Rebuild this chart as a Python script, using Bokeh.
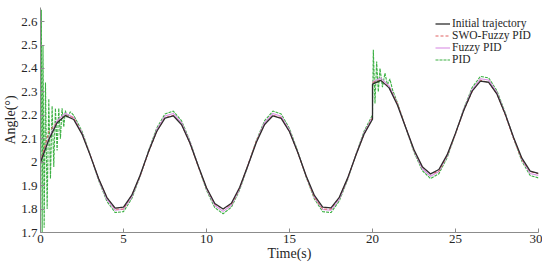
from bokeh.plotting import figure
from bokeh.models import Range1d, FixedTicker, Legend, LegendItem
from bokeh.embed import file_html
from bokeh.resources import INLINE

# ---- data ----
t_pre = [0, 0.5, 1, 1.5, 2, 2.5, 3, 3.5, 4, 4.5, 5, 5.5, 6, 6.5, 7, 7.5, 8, 8.5, 9, 9.5,
         10, 10.5, 11, 11.5, 12, 12.5, 13, 13.5, 14, 14.5, 15, 15.5, 16, 16.5, 17, 17.5,
         18, 18.5, 19, 19.5, 20]
t_post = [20, 20.5, 21, 21.5, 22, 22.5, 23, 23.5, 24, 24.5, 25, 25.5, 26, 26.5, 27, 27.5,
          28, 28.5, 29, 29.5, 30]

initial_pre = [2.000, 2.096, 2.168, 2.199, 2.182, 2.120, 2.028, 1.930, 1.849, 1.804, 1.808,
               1.859, 1.944, 2.043, 2.131, 2.188, 2.198, 2.160, 2.082, 1.985, 1.891, 1.824,
               1.800, 1.825, 1.893, 1.987, 2.084, 2.161, 2.198, 2.187, 2.130, 2.041, 1.942,
               1.858, 1.808, 1.805, 1.850, 1.932, 2.030, 2.121, 2.183]
initial_post = [2.333, 2.349, 2.317, 2.244, 2.148, 2.053, 1.981, 1.950, 1.969, 2.032, 2.124,
                2.222, 2.303, 2.346, 2.341, 2.290, 2.204, 2.105, 2.017, 1.962, 1.952]

swo_pre = [2.00, 2.13, 2.17, 2.20, 2.19, 2.12, 2.03, 1.93, 1.85, 1.80, 1.80, 1.86, 1.94, 2.04,
           2.13, 2.19, 2.20, 2.16, 2.08, 1.98, 1.89, 1.82, 1.80, 1.82, 1.89, 1.99, 2.09, 2.16,
           2.20, 2.19, 2.13, 2.04, 1.94, 1.85, 1.80, 1.80, 1.85, 1.93, 2.03, 2.12, 2.19]
swo_post = [2.34, 2.35, 2.32, 2.25, 2.15, 2.05, 1.98, 1.95, 1.96, 2.03, 2.12, 2.22, 2.30, 2.35,
            2.34, 2.29, 2.20, 2.10, 2.01, 1.96, 1.95]

fuzzy_pre = [2.000, 2.101, 2.177, 2.209, 2.191, 2.126, 2.030, 1.926, 1.841, 1.795, 1.799,
             1.852, 1.941, 2.045, 2.138, 2.197, 2.208, 2.168, 2.087, 1.984, 1.886, 1.815,
             1.790, 1.816, 1.887, 1.986, 2.088, 2.169, 2.208, 2.196, 2.137, 2.043, 1.940,
             1.850, 1.798, 1.795, 1.842, 1.928, 2.032, 2.127, 2.192]
fuzzy_post = [2.342, 2.359, 2.326, 2.249, 2.148, 2.048, 1.972, 1.940, 1.960, 2.026, 2.122,
              2.226, 2.310, 2.356, 2.351, 2.297, 2.207, 2.103, 2.011, 1.952, 1.943]

pid_t = [0, 0.05, 0.1, 0.15, 0.22, 0.3, 0.4, 0.5, 0.6, 0.7, 0.8, 0.9, 1.0, 1.1, 1.2, 1.3,
         1.4, 1.5, 1.6, 1.8, 2.0, 2.5, 3, 3.5, 4, 4.5, 5, 5.5, 6, 6.5, 7, 7.5, 8, 8.5, 9,
         9.5, 10, 10.5, 11, 11.5, 12, 12.5, 13, 13.5, 14, 14.5, 15, 15.5, 16, 16.5, 17,
         17.5, 18, 18.5, 19, 19.5, 20, 20.05, 20.15, 20.25, 20.35, 20.45, 20.6, 20.75, 20.9,
         21.05, 21.2, 21.5, 22, 22.5, 23, 23.5, 24, 24.5, 25, 25.5, 26, 26.5, 27, 27.5, 28,
         28.5, 29, 29.5, 30]
pid_y = [2.00, 2.65, 1.70, 2.50, 1.72, 2.34, 1.80, 2.27, 1.93, 2.24, 1.98, 2.23, 2.05, 2.23,
         2.10, 2.23, 2.15, 2.22, 2.19, 2.215, 2.200, 2.132, 2.031, 1.923, 1.833, 1.785, 1.789,
         1.845, 1.939, 2.047, 2.145, 2.206, 2.218, 2.176, 2.091, 1.984, 1.880, 1.806, 1.780,
         1.808, 1.882, 1.985, 2.092, 2.177, 2.218, 2.206, 2.143, 2.046, 1.937, 1.843, 1.789,
         1.785, 1.835, 1.925, 2.033, 2.133, 2.201, 2.48, 2.25, 2.43, 2.30, 2.40, 2.32, 2.38,
         2.33, 2.355, 2.31, 2.254, 2.148, 2.043, 1.964, 1.930, 1.951, 2.020, 2.121, 2.229,
         2.318, 2.366, 2.360, 2.304, 2.210, 2.101, 2.004, 1.943, 1.933]

x_ticks = [0, 5, 10, 15, 20, 25, 30]
y_ticks = [1.7, 1.8, 1.9, 2.0, 2.1, 2.2, 2.3, 2.4, 2.5, 2.6]
y_tick_labels = {1.7: "1.7", 1.8: "1.8", 1.9: "1.9", 2.0: "2", 2.1: "2.1", 2.2: "2.2",
                 2.3: "2.3", 2.4: "2.4", 2.5: "2.5", 2.6: "2.6"}

FONT = "Liberation Serif"
TXT = "#262626"

p = figure(frame_width=498, frame_height=225, output_backend="svg", toolbar_location=None,
           x_range=Range1d(0, 30), y_range=Range1d(1.7, 2.66),
           min_border_left=32, min_border_right=4, min_border_top=7, min_border_bottom=34)
p.outline_line_color = None
p.grid.visible = False
p.background_fill_color = "white"
p.border_fill_color = "white"

r_pid = p.line(pid_t, pid_y, line_color="#3cb043", line_width=1.1, line_dash="3 1")
r_fz1 = p.line(t_pre, fuzzy_pre, line_color="#d98fe3", line_width=1.1)
r_fz2 = p.line(t_post, fuzzy_post, line_color="#d98fe3", line_width=1.1)
r_sw1 = p.line(t_pre, swo_pre, line_color="#e06060", line_width=1, line_dash="3 2")
r_sw2 = p.line(t_post, swo_post, line_color="#e06060", line_width=1, line_dash="3 2")
r_in1 = p.line(t_pre + t_post, initial_pre + initial_post, line_color="#2e2e2e", line_width=1.3)

for ax in (p.xaxis[0], p.yaxis[0]):
    ax.axis_line_color = "#8c8c8c"
    ax.major_tick_line_color = "#8c8c8c"
    ax.major_tick_in = 4
    ax.major_tick_out = 0
    ax.minor_tick_line_color = None
    ax.major_label_text_font = FONT
    ax.major_label_text_font_size = "13px"
    ax.major_label_text_color = TXT
    ax.axis_label_text_font = FONT
    ax.axis_label_text_font_size = "14px"
    ax.axis_label_text_font_style = "normal"
    ax.axis_label_text_color = TXT

p.xaxis.ticker = FixedTicker(ticks=x_ticks)
p.yaxis.ticker = FixedTicker(ticks=y_ticks)
p.yaxis.major_label_overrides = y_tick_labels
p.xaxis.axis_label = "Time(s)"
p.yaxis.axis_label = "Angle(°)"
p.xaxis.major_label_standoff = 2
p.xaxis.axis_label_standoff = 0
p.yaxis.major_label_standoff = 3
p.yaxis.axis_label_standoff = 0

legend = Legend(items=[
    LegendItem(label="Initial trajectory", renderers=[r_in1]),
    LegendItem(label="SWO-Fuzzy PID", renderers=[r_sw1]),
    LegendItem(label="Fuzzy PID", renderers=[r_fz1]),
    LegendItem(label="PID", renderers=[r_pid]),
], location=(395, 167))
legend.padding = 0
legend.margin = 0
legend.spacing = 0
legend.border_line_color = None
legend.background_fill_alpha = 0
legend.glyph_width = 15
legend.glyph_height = 11
legend.label_height = 11
legend.label_standoff = 2
legend.label_text_font = FONT
legend.label_text_font_size = "11.5px"
legend.label_text_color = TXT
p.add_layout(legend)

open("out.html", "w").write(file_html(p, INLINE))
